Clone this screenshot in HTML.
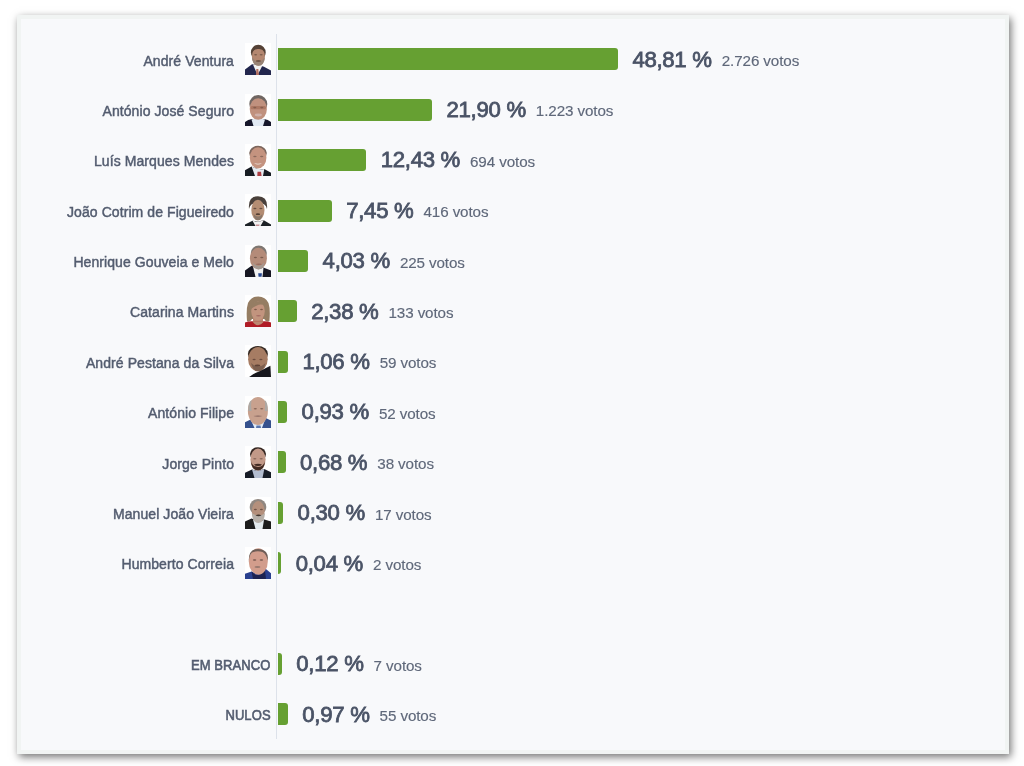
<!DOCTYPE html>
<html><head><meta charset="utf-8"><style>
html,body{margin:0;padding:0;background:#fff;}
body{will-change:transform;width:1024px;height:766px;overflow:hidden;position:relative;font-family:"Liberation Sans",sans-serif;}
.card{position:absolute;left:17px;top:15px;width:992px;height:739px;box-sizing:border-box;border:4px solid #f1f4f3;background:#f8f9fb;box-shadow:2px 3px 8px rgba(0,0,0,.55);}
.axis{position:absolute;left:276px;top:33.5px;width:1px;height:705.5px;background:#dde2ea;}
.nm{position:absolute;right:790px;height:16px;line-height:16px;font-size:14px;font-weight:normal;letter-spacing:0.08px;color:#535c6f;-webkit-text-stroke:0.45px #535c6f;white-space:nowrap;text-align:right;}
.bar{position:absolute;left:278px;height:22px;background:#66a032;border-radius:0 3px 3px 0;}
.pc{position:absolute;height:24px;line-height:24px;font-size:22.2px;letter-spacing:-0.3px;font-weight:normal;color:#4a5366;-webkit-text-stroke:0.8px #4a5366;white-space:nowrap;}
.vt{position:absolute;font-weight:normal;-webkit-text-stroke:0.15px #5f687a;letter-spacing:-0.1px;height:18px;line-height:18px;font-size:15.2px;color:#5f687a;white-space:nowrap;}
.ph{position:absolute;left:244.75px;width:26px;height:32px;background:#fff;overflow:hidden;}
.ph svg{display:block;width:26px;height:32px;}
</style></head><body>
<svg width="0" height="0" style="position:absolute"><filter id="bl" x="-10%" y="-10%" width="120%" height="120%"><feGaussianBlur stdDeviation="0.3"/></filter></svg>
<div class="card"></div>
<div class="axis"></div>

<div class="nm" style="top:52.50px;right:790px">André Ventura</div>
<div class="ph" style="top:43.20px"><svg viewBox="0 0 26 32"><rect width="26" height="32" fill="#fff"/><g filter="url(#bl)"><ellipse cx="13.3" cy="9.5" rx="7.4" ry="7.8" fill="#544237"/><path d="M0 32V26.4L7 21.2L13.5 22L19 23.8L26 27.4V32Z" fill="#21284d"/><path d="M8 21.5L12.5 32L17.5 22.5Z" fill="#f2f2f2"/><path d="M11.3 26H13.3L14 32H11Z" fill="#b47061"/><ellipse cx="13.4" cy="13.5" rx="6.5" ry="9.3" fill="#b4876f"/><path d="M6.9 14Q7.5 22.7 13.4 22.8Q19.3 22.7 19.9 14Q17 18.5 13.4 18.5Q9.8 18.5 6.9 14Z" fill="#978375"/><path d="M7 9Q10 5.5 13.4 6Q17 5.5 19.8 9Q19 4 13.3 3.5Q7.5 4 7 9Z" fill="#544237"/><ellipse cx="10.600000000000001" cy="11.8" rx="1.5" ry="0.7" fill="#6d5144" opacity=".8"/><ellipse cx="16.2" cy="11.8" rx="1.5" ry="0.7" fill="#6d5144" opacity=".8"/><ellipse cx="13.4" cy="18" rx="2.6" ry="0.9" fill="#715648"/></g></svg></div>
<div class="bar" style="top:48.40px;width:340.0px"></div>
<div class="pc" style="top:47.70px;left:632.40px">48,81 %<span class="vt" style="position:relative;margin-left:10px;top:-0.6px">2.726 votos</span></div>
<div class="nm" style="top:102.88px;right:790px">António José Seguro</div>
<div class="ph" style="top:93.58px"><svg viewBox="0 0 26 32"><rect width="26" height="32" fill="#fff"/><g filter="url(#bl)"><ellipse cx="13.3" cy="10" rx="9" ry="9" fill="#6f6662"/><path d="M0 32V28Q3 25.5 7 25L19 25Q23 25.5 26 28V32Z" fill="#141829"/><path d="M6.5 25.5L8.5 32H18L20 25.5Q13 23.5 6.5 25.5Z" fill="#e1e9f3"/><ellipse cx="13.3" cy="15" rx="8.6" ry="10.8" fill="#c0917e"/><rect x="5.5" y="12" width="15.5" height="3.3" rx="1.5" fill="#ac7864"/><ellipse cx="9.8" cy="13.6" rx="1.6" ry="0.8" fill="#7c5648" opacity=".8"/><ellipse cx="16.8" cy="13.6" rx="1.6" ry="0.8" fill="#7c5648" opacity=".8"/><ellipse cx="13.3" cy="21" rx="3.6" ry="1.4" fill="#cfb0a9"/></g></svg></div>
<div class="bar" style="top:98.78px;width:154.1px"></div>
<div class="pc" style="top:98.08px;left:446.50px">21,90 %<span class="vt" style="position:relative;margin-left:10px;top:-0.6px">1.223 votos</span></div>
<div class="nm" style="top:153.26px;right:790px">Luís Marques Mendes</div>
<div class="ph" style="top:143.96px"><svg viewBox="0 0 26 32"><rect width="26" height="32" fill="#fff"/><g filter="url(#bl)"><ellipse cx="13" cy="9" rx="8.8" ry="7.2" fill="#7c665d"/><path d="M0 32V26.3L6.6 22.6L13 25L19.3 24.9L26 28.7V32Z" fill="#181a21"/><path d="M6.6 22.6L10 32H18L19.3 24.9Q13 26 6.6 22.6Z" fill="#e5ebf1"/><path d="M12.5 27.7H16L16.6 32H12.3Z" fill="#ac3c42"/><ellipse cx="13.1" cy="13.8" rx="8.3" ry="10.6" fill="#c4937f"/><ellipse cx="9.9" cy="12.5" rx="1.7" ry="0.7" fill="#7c5f52" opacity=".8"/><ellipse cx="16.7" cy="12.5" rx="1.7" ry="0.7" fill="#7c5f52" opacity=".8"/><path d="M9 19Q13 22 17 19Q13 20.3 9 19Z" fill="#f0e4e0"/></g></svg></div>
<div class="bar" style="top:149.16px;width:88.3px"></div>
<div class="pc" style="top:148.46px;left:380.70px">12,43 %<span class="vt" style="position:relative;margin-left:10px;top:-0.6px">694 votos</span></div>
<div class="nm" style="top:203.64px;right:790px">João Cotrim de Figueiredo</div>
<div class="ph" style="top:194.34px"><svg viewBox="0 0 26 32"><rect width="26" height="32" fill="#fff"/><g filter="url(#bl)"><path d="M4 15Q2.8 2.3 13 2.3Q23.2 2.3 22 15Q21 9 13 8.5Q5 9 4 15Z" fill="#48403b"/><path d="M0 32V30.5L7.5 26.8L13 27.5L18.8 26.3L26 30.5V32Z" fill="#1e2227"/><path d="M7.5 26.8L10.5 32H15.5L18.8 26.3Q13 28.5 7.5 26.8Z" fill="#f2f2f2"/><path d="M10.8 30.5H14.6L14.2 32H11Z" fill="#c69095"/><ellipse cx="12.9" cy="16" rx="6.6" ry="10.3" fill="#b48d73"/><path d="M8.5 20Q9 26.3 13 26.3Q17 26.3 17.5 20Q15 22.5 13 22.5Q11 22.5 8.5 20Z" fill="#8b786a"/><ellipse cx="9.9" cy="14.5" rx="1.6" ry="0.8" fill="#543f32" opacity=".8"/><ellipse cx="15.9" cy="14.5" rx="1.6" ry="0.8" fill="#543f32" opacity=".8"/><ellipse cx="12.9" cy="20.2" rx="2.2" ry="0.9" fill="#543f32"/></g></svg></div>
<div class="bar" style="top:199.54px;width:53.8px"></div>
<div class="pc" style="top:198.84px;left:346.20px">7,45 %<span class="vt" style="position:relative;margin-left:10px;top:-0.6px">416 votos</span></div>
<div class="nm" style="top:254.02px;right:790px">Henrique Gouveia e Melo</div>
<div class="ph" style="top:244.72px"><svg viewBox="0 0 26 32"><rect width="26" height="32" fill="#fff"/><g filter="url(#bl)"><ellipse cx="13.8" cy="8" rx="8" ry="7.5" fill="#7e7772"/><path d="M0 32V25.4L6.6 20.7L13 23L18.3 22.6L26 25.4V32Z" fill="#151724"/><path d="M8 21.5L10.5 32H17.5L18.5 22.8Q13 24.5 8 21.5Z" fill="#f1f1f1"/><path d="M13.2 28.2H16.9L16.6 31.8H13.6Z" fill="#274691"/><ellipse cx="13.4" cy="13.5" rx="8.5" ry="10.7" fill="#b48b79"/><path d="M7.5 17.5Q9 24.4 13.6 24.4Q18 24.4 19.5 17.5Q16.5 21 13.5 21Q10.5 21 7.5 17.5Z" fill="#a49991"/><ellipse cx="10.399999999999999" cy="12.5" rx="1.6" ry="0.7" fill="#6d5144" opacity=".8"/><ellipse cx="16.8" cy="12.5" rx="1.6" ry="0.7" fill="#6d5144" opacity=".8"/><ellipse cx="13.8" cy="19.2" rx="3" ry="0.8" fill="#976d61"/></g></svg></div>
<div class="bar" style="top:249.92px;width:30.2px"></div>
<div class="pc" style="top:249.22px;left:322.60px">4,03 %<span class="vt" style="position:relative;margin-left:10px;top:-0.6px">225 votos</span></div>
<div class="nm" style="top:304.40px;right:790px">Catarina Martins</div>
<div class="ph" style="top:295.10px"><svg viewBox="0 0 26 32"><rect width="26" height="32" fill="#fff"/><g filter="url(#bl)"><path d="M2 26.3Q1 14 3 8Q6 1.4 13.3 1.4Q20.5 1.4 23.5 8Q25.5 14 24.4 26.3Q20 27 19.5 24L7 24Q6 27 2 26.3Z" fill="#957d64"/><path d="M8 20H18V28H8Z" fill="#bb8871"/><path d="M0 32V27.5Q3 26.3 6.6 26.3L19.3 26.3Q23 26.3 26 27.5V32Z" fill="#b01e26"/><path d="M7 26.3Q13 34 19 26.3Z" fill="#bb8871"/><ellipse cx="13" cy="16" rx="6.8" ry="9.5" fill="#c2947e"/><path d="M6 14Q5.5 6.6 13 6.6Q20 6.6 20.5 11Q16 8.5 12 10.5Q8 12 6 14Z" fill="#957d64"/><ellipse cx="10.5" cy="14.5" rx="1.4" ry="0.7" fill="#6d4c40" opacity=".8"/><ellipse cx="16.5" cy="14.5" rx="1.4" ry="0.7" fill="#6d4c40" opacity=".8"/><ellipse cx="13.5" cy="20.8" rx="2.4" ry="0.8" fill="#a56d64"/></g></svg></div>
<div class="bar" style="top:300.30px;width:18.8px"></div>
<div class="pc" style="top:299.60px;left:311.20px">2,38 %<span class="vt" style="position:relative;margin-left:10px;top:-0.6px">133 votos</span></div>
<div class="nm" style="top:354.78px;right:790px">André Pestana da Silva</div>
<div class="ph" style="top:345.48px"><svg viewBox="0 0 26 32"><rect width="26" height="32" fill="#fff"/><g filter="url(#bl)"><ellipse cx="12.9" cy="9" rx="10" ry="8" fill="#352a24"/><ellipse cx="12.9" cy="14.2" rx="9.8" ry="12.1" fill="#a67c63"/><path d="M6 18Q8 26.3 13 26.3Q19 26 20.5 18Q17 21.5 13 21.5Q9.5 21.5 6 18Z" fill="#7c5f4f"/><ellipse cx="9.1" cy="14.5" rx="1.6" ry="0.8" fill="#5f4236" opacity=".8"/><ellipse cx="15.9" cy="14.5" rx="1.6" ry="0.8" fill="#5f4236" opacity=".8"/><ellipse cx="12.5" cy="20.5" rx="2.8" ry="1" fill="#5f4236"/><path d="M4.2 32Q9 28 14 26.5Q20 23.5 25.4 20.7L26 32Z" fill="#16161a"/></g></svg></div>
<div class="bar" style="top:350.68px;width:10.0px"></div>
<div class="pc" style="top:349.98px;left:302.40px">1,06 %<span class="vt" style="position:relative;margin-left:10px;top:-0.6px">59 votos</span></div>
<div class="nm" style="top:405.16px;right:790px">António Filipe</div>
<div class="ph" style="top:395.86px"><svg viewBox="0 0 26 32"><rect width="26" height="32" fill="#fff"/><g filter="url(#bl)"><path d="M0 32V26.3L5.6 23.5L13 27L20.7 22L26 24.4V32Z" fill="#34518e"/><path d="M5.6 23.5L9.5 32H17L20.7 22Q13 27 5.6 23.5Z" fill="#e1ebf7"/><path d="M11.5 29.5H15.5L16 32H11Z" fill="#5a76ad"/><ellipse cx="12.9" cy="15" rx="10" ry="14.1" fill="#c8a18e"/><path d="M3.3 15Q2.8 6 6.6 4Q5.5 9 6.6 15Z" fill="#ada8a3"/><path d="M22.6 15Q23 6 19.7 4Q20.5 9 19.7 15Z" fill="#ada8a3"/><ellipse cx="10.3" cy="12.8" rx="1.6" ry="0.8" fill="#795a4c" opacity=".8"/><ellipse cx="16.7" cy="12.8" rx="1.6" ry="0.8" fill="#795a4c" opacity=".8"/><path d="M8.5 20Q13 19 17.5 20Q13 21.5 8.5 20Z" fill="#8a6760"/></g></svg></div>
<div class="bar" style="top:401.06px;width:9.2px"></div>
<div class="pc" style="top:400.36px;left:301.60px">0,93 %<span class="vt" style="position:relative;margin-left:10px;top:-0.6px">52 votos</span></div>
<div class="nm" style="top:455.54px;right:790px">Jorge Pinto</div>
<div class="ph" style="top:446.24px"><svg viewBox="0 0 26 32"><rect width="26" height="32" fill="#fff"/><g filter="url(#bl)"><ellipse cx="13" cy="8" rx="8" ry="6.8" fill="#342621"/><path d="M0 32V26.8L7 23.5L13 25L19.3 23L26 26.3V32Z" fill="#191b27"/><path d="M7 23.5L9.5 32H17.5L19.3 23Q13 26 7 23.5Z" fill="#b3bdd0"/><ellipse cx="13" cy="13.5" rx="7.6" ry="10.9" fill="#c29988"/><path d="M6 15Q6.5 24.4 13 24.4Q19.5 24.4 20 15Q19 20.5 13 21Q7 20.5 6 15Z" fill="#422b24"/><path d="M9 18.5Q13 17 17 18.5Q16 20 13 20Q10 20 9 18.5Z" fill="#422b24"/><ellipse cx="9.8" cy="12.8" rx="1.6" ry="0.8" fill="#7c5b4f" opacity=".8"/><ellipse cx="16.2" cy="12.8" rx="1.6" ry="0.8" fill="#7c5b4f" opacity=".8"/></g></svg></div>
<div class="bar" style="top:451.44px;width:7.6px"></div>
<div class="pc" style="top:450.74px;left:300.00px">0,68 %<span class="vt" style="position:relative;margin-left:10px;top:-0.6px">38 votos</span></div>
<div class="nm" style="top:505.92px;right:790px">Manuel João Vieira</div>
<div class="ph" style="top:496.62px"><svg viewBox="0 0 26 32"><rect width="26" height="32" fill="#fff"/><g filter="url(#bl)"><ellipse cx="13" cy="10" rx="8.3" ry="8" fill="#908780"/><path d="M0 32V24.4L6.6 21.6L13 24L19.3 22.6L26 24.4V32Z" fill="#1a1a1b"/><path d="M8 22.5L10.5 32H17.5L19 23Q13 25 8 22.5Z" fill="#e3eaee"/><ellipse cx="13.2" cy="14" rx="6.4" ry="10" fill="#b4907b"/><path d="M6.8 16Q7.5 26 13.5 26Q19.5 25.5 20 16Q17 18.5 13.5 18.5Q10 18.5 6.8 16Z" fill="#b6afa8"/><path d="M10.5 18.5Q13.5 16.5 16.5 18.5Q13.5 19.8 10.5 18.5Z" fill="#42362e"/><ellipse cx="10.4" cy="12.5" rx="1.5" ry="0.8" fill="#5f4439" opacity=".8"/><ellipse cx="16.4" cy="12.5" rx="1.5" ry="0.8" fill="#5f4439" opacity=".8"/></g></svg></div>
<div class="bar" style="top:501.82px;width:5.2px"></div>
<div class="pc" style="top:501.12px;left:297.60px">0,30 %<span class="vt" style="position:relative;margin-left:10px;top:-0.6px">17 votos</span></div>
<div class="nm" style="top:556.30px;right:790px">Humberto Correia</div>
<div class="ph" style="top:547.00px"><svg viewBox="0 0 26 32"><rect width="26" height="32" fill="#fff"/><g filter="url(#bl)"><path d="M0 32V26.8L6.6 24.4L13 27L19.7 21.1L26 26.3V32Z" fill="#2b3f8f"/><path d="M6.6 24.4Q13 33 19.7 21.5L21 32H8Z" fill="#1a2451"/><ellipse cx="13.3" cy="14.5" rx="9.5" ry="13.2" fill="#d29d8c"/><path d="M3.8 14Q3.5 4 10 2.3Q17 1.2 21 5Q23.5 8 22.8 14Q21.5 7 17.5 5Q12 3.5 7 5.5Q4.5 8 3.8 14Z" fill="#6e5d56"/><ellipse cx="9.6" cy="13" rx="1.7" ry="0.9" fill="#795a50" opacity=".8"/><ellipse cx="16.4" cy="13" rx="1.7" ry="0.9" fill="#795a50" opacity=".8"/><ellipse cx="12.5" cy="20" rx="3" ry="1" fill="#99796f"/></g></svg></div>
<div class="bar" style="top:552.20px;width:3.3px"></div>
<div class="pc" style="top:551.50px;left:295.70px">0,04 %<span class="vt" style="position:relative;margin-left:10px;top:-0.6px">2 votos</span></div>
<div class="nm" style="top:657.06px;right:753.3px;transform:scaleX(0.93);transform-origin:100% 50%;-webkit-text-stroke:0.6px #535c6f">EM BRANCO</div>
<div class="bar" style="top:652.96px;width:3.9px"></div>
<div class="pc" style="top:652.26px;left:296.30px">0,12 %<span class="vt" style="position:relative;margin-left:10px;top:-0.6px">7 votos</span></div>
<div class="nm" style="top:707.44px;right:753.3px;transform:scaleX(0.93);transform-origin:100% 50%;-webkit-text-stroke:0.6px #535c6f">NULOS</div>
<div class="bar" style="top:703.34px;width:9.9px"></div>
<div class="pc" style="top:702.64px;left:302.30px">0,97 %<span class="vt" style="position:relative;margin-left:10px;top:-0.6px">55 votos</span></div>
</body></html>
